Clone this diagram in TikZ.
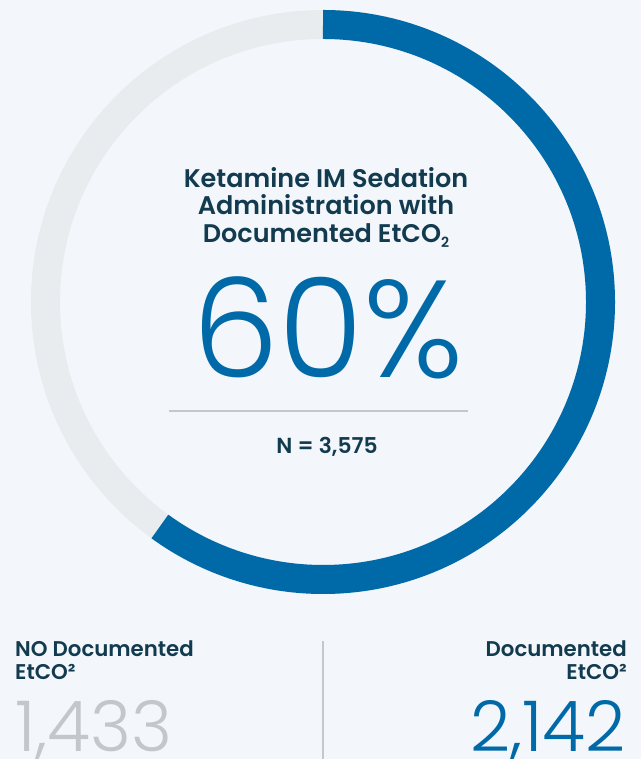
\documentclass[tikz,border=0pt]{standalone}
\usepackage{fontspec}
\setmainfont{Poppins}
\newfontfamily\semifont{Poppins SemiBold}
\newfontfamily\lightfont{Poppins Light}
\definecolor{bgc}{HTML}{F3F6FA}
\definecolor{ringgray}{HTML}{E8ECEF}
\definecolor{ringblue}{HTML}{006AA8}
\definecolor{inkdark}{HTML}{123B4F}
\definecolor{numgray}{HTML}{C3C7CA}
\definecolor{rulegray}{HTML}{C5C8CB}
\tikzset{
  label/.style={inner sep=0pt, text=inkdark, font=\semifont\fontsize{21.3}{23}\selectfont},
  title/.style={inner sep=0pt, text=inkdark, font=\semifont\fontsize{25.5}{27.5}\selectfont, align=center},
  bignum/.style={inner sep=0pt, font=\lightfont\fontsize{70}{70}\selectfont},
  ring/.style={line width=29pt},
  rulerline/.style={draw=rulegray, line width=2pt}
}
\begin{document}
\begin{tikzpicture}[x=1pt,y=1pt]
  \fill[bgc] (0,0) rectangle (641,759);
  \useasboundingbox (0,0) rectangle (641,759);
  % donut chart: 60% documented
  \coordinate (c) at (323,457);
  \draw[ring, ringgray] (c) circle[radius=277.5];
  \draw[ring, ringblue] ([yshift=277.5pt]c) arc[start angle=90, end angle=-126, radius=277.5];
  % title and figures inside the ring
  \node[title, anchor=base] (t1) at (326,571) {Ketamine IM Sedation};
  \node[title, anchor=base] (t2) at (326,544) {Administration with};
  \node[title, anchor=base] (t3) at (326,516) {Documented EtCO\raisebox{-0.35ex}{\fontsize{14}{14}\selectfont 2}};
  \node[inner sep=0pt, anchor=base, text=ringblue, font=\lightfont\fontsize{138}{138}\selectfont] (pct) at (328,381) {60\%};
  \coordinate (ra) at (169,348.4);
  \coordinate (rb) at (468,348.4);
  \draw[rulerline] (ra) -- (rb);
  \node[inner sep=0pt, anchor=base, text=inkdark, font=\semifont\fontsize{21.8}{21.8}\selectfont] (n) at (327,305) {N = 3,575};
  % bottom split
  \coordinate (va) at (323,118);
  \coordinate (vb) at (323,0);
  \draw[rulerline] (va) -- (vb);
  \node[label, anchor=base west] (l1) at (15,102) {NO Documented};
  \node[label, anchor=base west] (l2) at (15,79) {EtCO²};
  \node[bignum, anchor=base west, text=numgray] (v1) at (15,7) {1,433};
  \node[label, anchor=base east] (r1) at (627,102) {Documented};
  \node[label, anchor=base east] (r2) at (627,79) {EtCO²};
  \node[bignum, anchor=base east, text=ringblue] (v2) at (626,7) {2,142};
\end{tikzpicture}
\end{document}
